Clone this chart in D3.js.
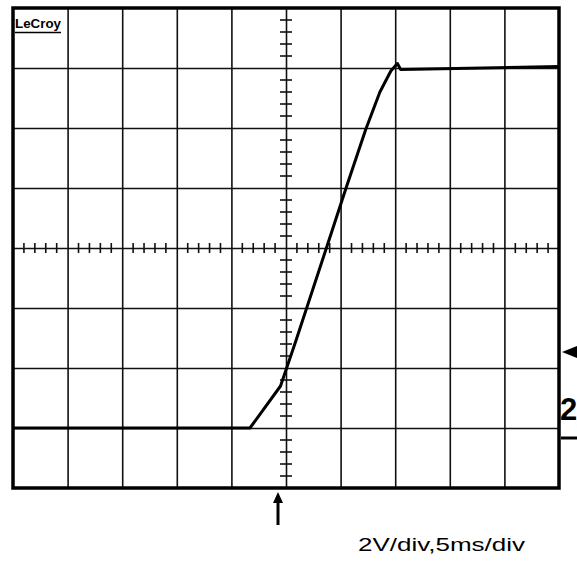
<!DOCTYPE html>
<html>
<head>
<meta charset="utf-8">
<script src="https://cdn.jsdelivr.net/npm/d3@7"></script>
<style>
  body { margin: 0; background: #fff; }
  svg { display: block; }
</style>
</head>
<body>
<div id="chart"></div>
<script>
// trace: time in ms (5 ms/div), volts relative to screen centre (2 V/div)
var timeMs = [-25, -3.3, -0.5, 0.9, 3.7, 5.5, 7.3, 8.6, 9.6, 10.2, 10.5, 25];
var volts  = [-6, -6, -4.6, -3.1, 0, 2.0, 3.95, 5.2, 5.9, 6.15, 5.95, 6.05];

var gridTime = [-20, -15, -10, -5, 0, 5, 10, 15, 20];
var gridVolt = [-6, -4, -2, 0, 2, 4, 6];
var scaleLabel = "2V/div,5ms/div";
var brand = "LeCroy";
var channel = "2";

var width = 577, height = 568,
    plotLeft = 13, plotRight = 559, plotTop = 8, plotBottom = 488;

var x = d3.scaleLinear().domain([-25, 25]).range([plotLeft, plotRight]),
    y = d3.scaleLinear().domain([-8, 8]).range([plotBottom, plotTop]);

var svg = d3.select("#chart")
    .append("svg")
      .attr("width", width)
      .attr("height", height);

// grid
svg.append("g")
    .attr("transform", `translate(0, ${plotBottom})`)
    .call(d3.axisBottom(x).tickValues(gridTime).tickSize(-(plotBottom - plotTop)).tickFormat(""))
    .call(g => g.select(".domain").remove())
    .selectAll("line").attr("stroke", "#111").attr("stroke-width", 1.6);

svg.append("g")
    .attr("transform", `translate(${plotLeft}, 0)`)
    .call(d3.axisLeft(y).tickValues(gridVolt).tickSize(-(plotRight - plotLeft)).tickFormat(""))
    .call(g => g.select(".domain").remove())
    .selectAll("line").attr("stroke", "#111").attr("stroke-width", 1.6);

// minor ticks on centre lines, 5 per division
var minorT = d3.range(-25, 25.01, 1).filter(d => d % 5 !== 0);
var minorV = d3.range(-8, 8.01, 0.4).filter(d => Math.abs(d / 2 - Math.round(d / 2)) > 0.01);

svg.append("g").selectAll("line")
    .data(minorT)
  .enter().append("line")
    .attr("x1", d => x(d)).attr("x2", d => x(d))
    .attr("y1", y(0) - 5).attr("y2", y(0) + 5)
    .attr("stroke", "#111").attr("stroke-width", 1.6);

svg.append("g").selectAll("line")
    .data(minorV)
  .enter().append("line")
    .attr("x1", x(0) - 6).attr("x2", x(0) + 6)
    .attr("y1", d => y(d)).attr("y2", d => y(d))
    .attr("stroke", "#111").attr("stroke-width", 1.6);

// trace
var line = d3.line()
    .x(d => x(d[0]))
    .y(d => y(d[1]));

svg.append("path")
    .datum(d3.zip(timeMs, volts))
    .attr("d", line)
    .attr("fill", "none")
    .attr("stroke", "#000")
    .attr("stroke-width", 3)
    .attr("stroke-linejoin", "round");

// frame
svg.append("rect")
    .attr("x", plotLeft).attr("y", plotTop)
    .attr("width", plotRight - plotLeft).attr("height", plotBottom - plotTop)
    .attr("fill", "none")
    .attr("stroke", "#000")
    .attr("stroke-width", 3.5);

// brand
svg.append("text")
    .attr("x", 15).attr("y", 28)
    .attr("font-family", "Liberation Sans, Arial, sans-serif")
    .attr("font-weight", "bold")
    .attr("font-size", 13)
    .attr("textLength", 46)
    .attr("lengthAdjust", "spacingAndGlyphs")
    .text(brand);
svg.append("line")
    .attr("x1", 15).attr("x2", 61)
    .attr("y1", 32.5).attr("y2", 32.5)
    .attr("stroke", "#000").attr("stroke-width", 1.5);

// trigger arrow under the screen
svg.append("line")
    .attr("x1", 278).attr("x2", 278)
    .attr("y1", 498).attr("y2", 525)
    .attr("stroke", "#000").attr("stroke-width", 3);
svg.append("path")
    .attr("d", "M278,492 L273,503 L283,503 Z")
    .attr("fill", "#000");

// channel marker on the right
svg.append("path")
    .attr("d", "M562,352 L577,346 L577,358 Z")
    .attr("fill", "#000");
svg.append("text")
    .attr("x", 560).attr("y", 420)
    .attr("font-family", "Liberation Sans, Arial, sans-serif")
    .attr("font-weight", "bold")
    .attr("font-size", 31)
    .text(channel);
svg.append("line")
    .attr("x1", 561).attr("x2", 577)
    .attr("y1", 438).attr("y2", 438)
    .attr("stroke", "#000").attr("stroke-width", 3);

// scale label
svg.append("text")
    .attr("x", 358).attr("y", 551)
    .attr("font-family", "Liberation Sans, Arial, sans-serif")
    .attr("font-size", 18)
    .attr("textLength", 167)
    .attr("lengthAdjust", "spacingAndGlyphs")
    .text(scaleLabel);
</script>
</body>
</html>
